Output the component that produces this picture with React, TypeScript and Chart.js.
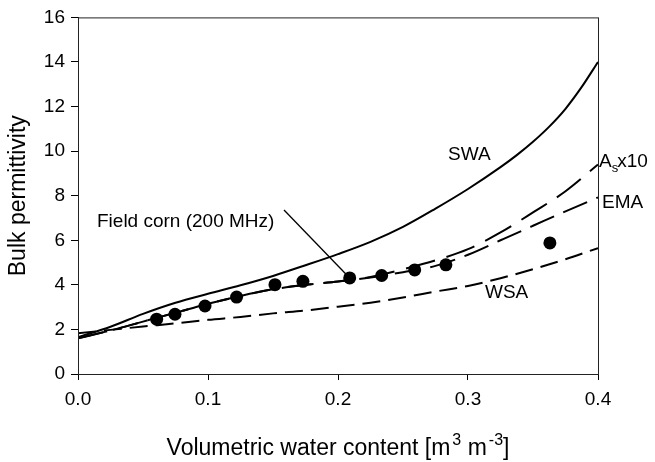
import { useEffect, useRef } from "react";
import { Chart, registerables } from "chart.js";

Chart.register(...registerables);

const FONT = "'Liberation Sans', Arial, sans-serif";

// Volumetric water content grid for the model curves
const thetaGrid = [0, 0.025, 0.05, 0.075, 0.1, 0.125, 0.15, 0.175, 0.2, 0.225, 0.25, 0.275, 0.3, 0.325, 0.35, 0.375, 0.4];
// SWA is read on a finer grid near its steep end
const swaTheta = [0, 0.025, 0.05, 0.075, 0.1, 0.125, 0.15, 0.175, 0.2, 0.225, 0.25, 0.275, 0.3, 0.325, 0.3375, 0.35, 0.3625, 0.375, 0.3875, 0.4];
const swaValues = [1.65, 2.12, 2.7, 3.2, 3.6, 3.98, 4.4, 4.88, 5.38, 5.93, 6.6, 7.42, 8.3, 9.28, 9.82, 10.42, 11.1, 11.9, 12.88, 14.0];
// Other model curves (bulk permittivity)
const asX10Values = [1.6, 1.95, 2.35, 2.75, 3.15, 3.5, 3.8, 4.0, 4.15, 4.35, 4.7, 5.1, 5.6, 6.35, 7.25, 8.2, 9.4];
const emaValues = [1.6, 1.95, 2.35, 2.75, 3.15, 3.5, 3.8, 4.0, 4.15, 4.33, 4.57, 4.85, 5.35, 6.0, 6.65, 7.3, 7.92];
const wsaValues = [1.83, 1.98, 2.13, 2.27, 2.43, 2.56, 2.72, 2.85, 3.02, 3.2, 3.43, 3.7, 3.95, 4.3, 4.7, 5.15, 5.65];
// Measured data: field corn (200 MHz)
const fieldTheta = [0.0605, 0.0746, 0.0977, 0.122, 0.1515, 0.173, 0.209, 0.2336, 0.259, 0.283, 0.363];
const fieldValues = [2.46, 2.68, 3.05, 3.45, 4.01, 4.16, 4.31, 4.42, 4.67, 4.9, 5.88];
// Axis ticks
const xTickValues = [0, 0.1, 0.2, 0.3, 0.4];
const yTickValues = [0, 2, 4, 6, 8, 10, 12, 14, 16];

const toXY = (xs: number[], ys: number[]) => xs.map((x, i) => ({ x, y: ys[i] }));

const decorPlugin = {
  id: "decor",
  afterDraw(chart: any) {
    const { ctx, chartArea } = chart;
    const xs = chart.scales.x;
    const ys = chart.scales.y;
    ctx.save();
    // frame
    ctx.strokeStyle = "#222";
    ctx.lineWidth = 1;
    ctx.strokeRect(chartArea.left + 0.5, chartArea.top + 0.5, chartArea.right - chartArea.left, chartArea.bottom - chartArea.top);

    ctx.fillStyle = "#000";
    ctx.textBaseline = "alphabetic";
    ctx.textAlign = "left";
    ctx.font = `19px ${FONT}`;
    // curve labels
    ctx.fillText("SWA", 448, 160);
    ctx.fillText("EMA", 602, 208);
    ctx.fillText("WSA", 485, 298);
    // A_s x10
    let x = 599;
    ctx.fillText("A", x, 167);
    x += ctx.measureText("A").width;
    ctx.font = `13px ${FONT}`;
    ctx.fillText("s", x, 172);
    x += ctx.measureText("s").width;
    ctx.font = `19px ${FONT}`;
    ctx.fillText("x10", x - 1, 167);

    // Field corn label + pointer
    ctx.fillText("Field corn (200 MHz)", 97, 227);
    ctx.beginPath();
    ctx.lineWidth = 1.3;
    ctx.strokeStyle = "#000";
    ctx.moveTo(284, 210);
    ctx.lineTo(xs.getPixelForValue(fieldTheta[6]), ys.getPixelForValue(fieldValues[6]));
    ctx.stroke();

    // y title
    ctx.save();
    ctx.translate(25, (chartArea.top + chartArea.bottom) / 2);
    ctx.rotate(-Math.PI / 2);
    ctx.font = `23px ${FONT}`;
    ctx.textAlign = "center";
    ctx.fillText("Bulk permittivity", 0, 0);
    ctx.restore();

    // x title with superscripts
    const parts: [string, boolean][] = [
      ["Volumetric water content [m", false],
      ["3", true],
      [" m", false],
      ["-3", true],
      ["]", false],
    ];
    const big = `23px ${FONT}`;
    const small = `16px ${FONT}`;
    let total = 0;
    for (const [t, sup] of parts) {
      ctx.font = sup ? small : big;
      total += ctx.measureText(t).width + (sup ? 2 : 0);
    }
    let cx = (chartArea.left + chartArea.right) / 2 - total / 2;
    const base = 455;
    for (const [t, sup] of parts) {
      ctx.font = sup ? small : big;
      if (sup) cx += 2;
      ctx.fillText(t, cx, sup ? base - 10 : base);
      cx += ctx.measureText(t).width;
    }
    ctx.restore();
  },
};

export default function App() {
  const ref = useRef<HTMLCanvasElement>(null);
  useEffect(() => {
    document.body.style.margin = "0";
    const lineBase = {
      showLine: true,
      borderColor: "#000",
      borderWidth: 2,
      pointRadius: 0,
      fill: false,
      cubicInterpolationMode: "monotone" as const,
    };
    const chart = new Chart(ref.current!, {
      type: "scatter",
      data: {
        datasets: [
          { ...lineBase, label: "SWA", data: toXY(swaTheta, swaValues) },
          { ...lineBase, label: "Asx10", data: toXY(thetaGrid, asX10Values), borderDash: [30, 12] },
          { ...lineBase, label: "EMA", data: toXY(thetaGrid, emaValues), borderDash: [26, 10] },
          { ...lineBase, label: "WSA", data: toXY(thetaGrid, wsaValues), borderDash: [18, 8] },
          {
            label: "Field corn (200 MHz)",
            data: toXY(fieldTheta, fieldValues),
            showLine: false,
            pointRadius: 6.5,
            pointBackgroundColor: "#000",
            pointBorderColor: "#000",
            pointBorderWidth: 0,
          },
        ],
      },
      options: {
        responsive: false,
        animation: false,
        layout: { padding: { left: 0, top: 13, right: 57, bottom: 0 } },
        plugins: { legend: { display: false }, tooltip: { enabled: false } },
        scales: {
          x: {
            type: "linear",
            min: 0,
            max: 0.4,
            afterFit: (s: any) => {
              s.height = 88;
            },
            afterBuildTicks: (s: any) => {
              s.ticks = xTickValues.map((v) => ({ value: v }));
            },
            ticks: {
              callback: (v: any) => Number(v).toFixed(1),
              font: { family: FONT, size: 19 },
              color: "#000",
              padding: 8,
              maxRotation: 0,
            },
            grid: { drawOnChartArea: false, drawTicks: true, tickLength: 6, color: "#000" },
            border: { display: true, color: "#222" },
          },
          y: {
            type: "linear",
            min: 0,
            max: 16,
            afterFit: (s: any) => {
              s.width = 78;
            },
            afterBuildTicks: (s: any) => {
              s.ticks = yTickValues.map((v) => ({ value: v }));
            },
            ticks: {
              font: { family: FONT, size: 19 },
              color: "#000",
              padding: 6,
            },
            grid: { drawOnChartArea: false, drawTicks: true, tickLength: 7, color: "#000" },
            border: { display: true, color: "#222" },
          },
        },
      },
      plugins: [decorPlugin],
    });
    return () => chart.destroy();
  }, []);
  return <canvas ref={ref} width={655} height={462} style={{ display: "block" }} />;
}
